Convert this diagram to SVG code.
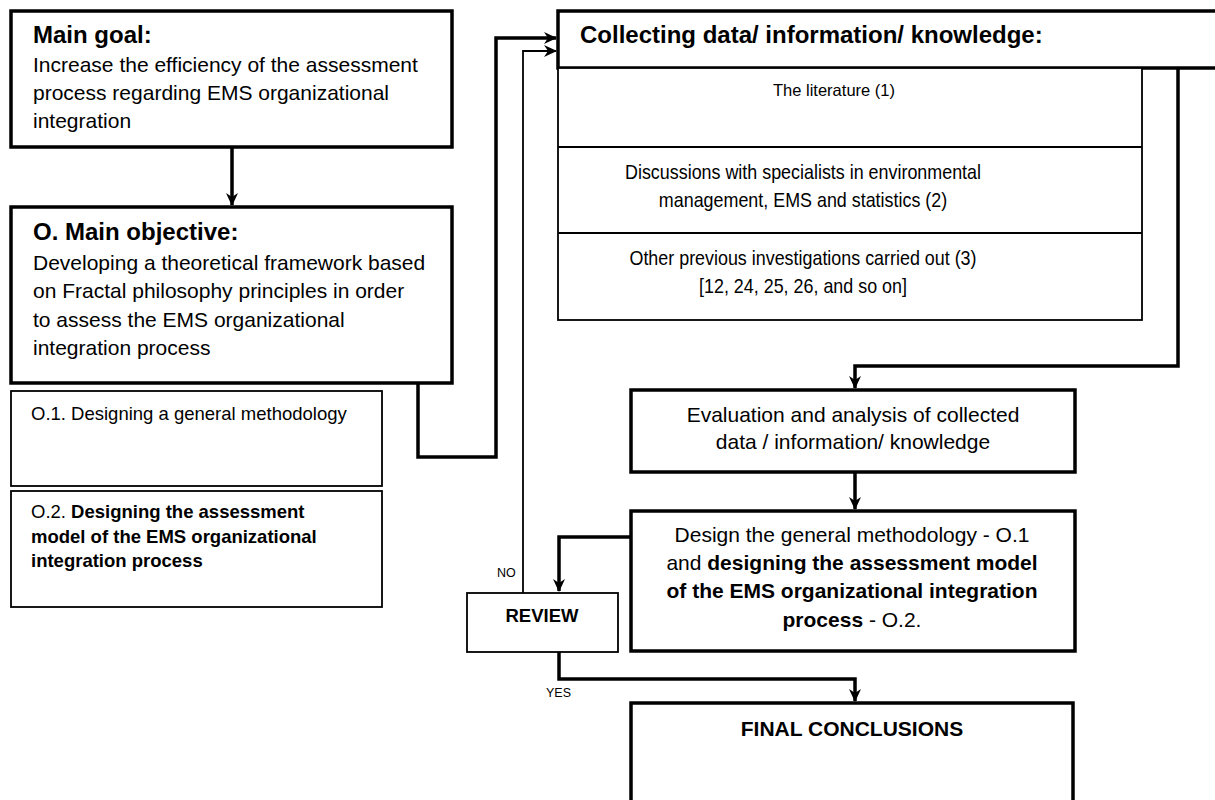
<svg xmlns="http://www.w3.org/2000/svg" width="1215" height="800" viewBox="0 0 1215 800">
<style>
text{font-family:"Liberation Sans",Arial,sans-serif;fill:#000}
.thick{fill:#fff;stroke:#000;stroke-width:3.5}
.thin{fill:#fff;stroke:#000;stroke-width:1.8}
.h{font-size:24px;font-weight:bold}
.b{font-size:21px}
.s{font-size:18.5px}
.t{font-size:20px}
.c{text-anchor:middle}
.bold{font-weight:bold}
.lnk{fill:none;stroke:#000;stroke-width:3.5}
.lnk2{fill:none;stroke:#000;stroke-width:1.8}
.lbl{font-size:12.5px}
</style>
<defs>
<marker id="ah" markerUnits="userSpaceOnUse" markerWidth="14" markerHeight="14" refX="12" refY="7" orient="auto">
<path d="M0,1 L13,7 L0,13 L4,7 z" fill="#000"/>
</marker>
</defs>
<rect width="1215" height="800" fill="#fff"/>

<g id="connectors">
<path class="lnk" d="M232,147 V205" marker-end="url(#ah)"/>
<path class="lnk" d="M418,383 V457 H496 V38 H556" marker-end="url(#ah)"/>
<path class="lnk2" d="M523,593 V51 H556" marker-end="url(#ah)"/>
<path class="lnk" d="M1178,68 V366 H855 V388" marker-end="url(#ah)"/>
<path class="lnk" d="M855,472 V509" marker-end="url(#ah)"/>
<path class="lnk" d="M631,537 H559 V591" marker-end="url(#ah)"/>
<path class="lnk" d="M559,652 V679 H855 V701" marker-end="url(#ah)"/>
<text class="lbl" x="497" y="577">NO</text>
<text class="lbl" x="546" y="697">YES</text>
</g>

<g id="main-goal">
<rect class="thick" x="11" y="11" width="441" height="136"/>
<text class="h" x="33" y="43">Main goal:</text>
<text class="b" x="33" y="72">Increase the efficiency of the assessment</text>
<text class="b" x="33" y="100">process regarding EMS organizational</text>
<text class="b" x="33" y="128">integration</text>
</g>

<g id="main-objective">
<rect class="thick" x="11" y="207" width="441" height="176"/>
<text class="h" x="33" y="240">O. Main objective:</text>
<text class="b" x="33" y="270">Developing a theoretical framework based</text>
<text class="b" x="33" y="298">on Fractal philosophy principles in order</text>
<text class="b" x="33" y="327">to assess the EMS organizational</text>
<text class="b" x="33" y="355">integration process</text>
</g>

<g id="o1">
<rect class="thin" x="11" y="391" width="371" height="95"/>
<text class="s" x="31" y="420">O.1. Designing a general methodology</text>
</g>

<g id="o2">
<rect class="thin" x="11" y="491" width="371" height="116"/>
<text class="s" x="31" y="518">O.2. <tspan class="bold">Designing the assessment</tspan></text>
<text class="s bold" x="31" y="543">model of the EMS organizational</text>
<text class="s bold" x="31" y="567">integration process</text>
</g>

<g id="collecting">
<rect class="thick" x="558" y="11" width="670" height="57"/>
<text class="h" x="580" y="43">Collecting data/ information/ knowledge:</text>
</g>

<g id="sources">
<rect class="thin" x="558" y="68" width="584" height="252"/>
<line x1="558" y1="147" x2="1142" y2="147" stroke="#000" stroke-width="1.8"/>
<line x1="558" y1="233" x2="1142" y2="233" stroke="#000" stroke-width="1.8"/>
<text class="c" x="834" y="96" style="font-size:16.5px">The literature (1)</text>
<g transform="translate(803,0) scale(0.895,1)">
<text class="t c" x="0" y="179">Discussions with specialists in environmental</text>
<text class="t c" x="0" y="207">management, EMS and statistics (2)</text>
<text class="t c" x="0" y="265">Other previous investigations carried out (3)</text>
<text class="t c" x="0" y="293">[12, 24, 25, 26, and so on]</text>
</g>
</g>

<g id="evaluation">
<rect class="thick" x="631" y="390" width="444" height="82"/>
<text class="b c" x="853" y="422">Evaluation and analysis of collected</text>
<text class="b c" x="853" y="449">data / information/ knowledge</text>
</g>

<g id="design">
<rect class="thick" x="631" y="511" width="444" height="140"/>
<text class="b c" x="852" y="542">Design the general methodology - O.1</text>
<text class="b c" x="852" y="570">and <tspan class="bold">designing the assessment model</tspan></text>
<text class="b c bold" x="852" y="598">of the EMS organizational integration</text>
<text class="b c" x="852" y="627"><tspan class="bold">process</tspan> - O.2.</text>
</g>

<g id="review">
<rect class="thin" x="467" y="593" width="151" height="59"/>
<text class="c bold" x="542" y="622" style="font-size:18.5px">REVIEW</text>
</g>

<g id="final">
<rect class="thick" x="631" y="703" width="442" height="110"/>
<text class="c bold" x="852" y="736" style="font-size:21px">FINAL CONCLUSIONS</text>
</g>
</svg>
